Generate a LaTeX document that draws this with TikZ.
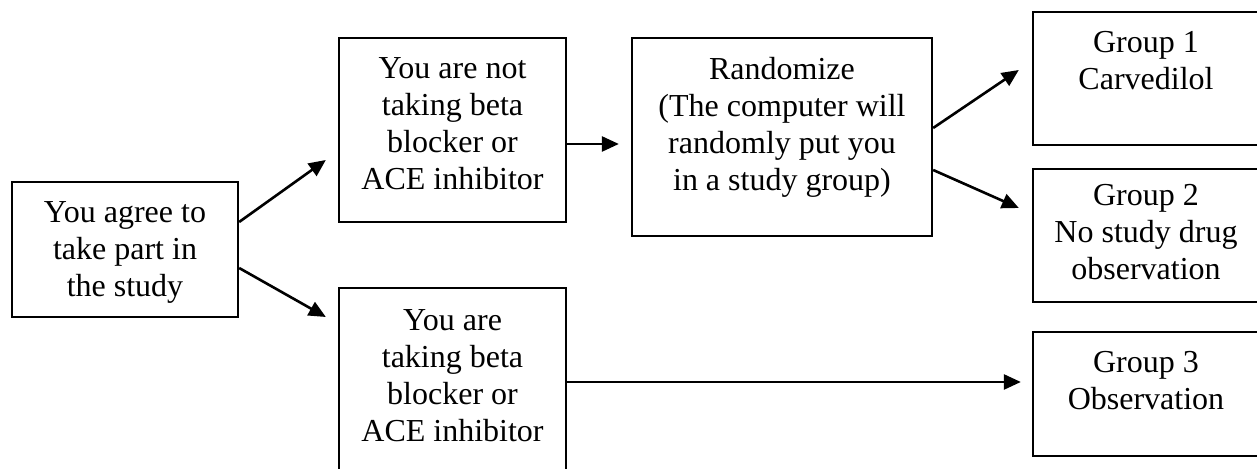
\documentclass[tikz,border=0pt]{standalone}
\usepackage{fontspec}
\setmainfont{Liberation Serif}
\usetikzlibrary{arrows.meta,calc}
\tikzset{
  flowarrow/.style={-{Triangle[length=8.5pt, width=7.5pt]}, line width=1.3pt},
  stepbox/.style={draw, line width=1.15pt, minimum width=113.5pt, minimum height=92pt},
  groupbox/.style={draw, line width=1.15pt, minimum width=113pt, minimum height=66.5pt},
  boxtext/.style={anchor=north, align=center, inner sep=0pt, yshift=-10pt}
}

\begin{document}
\begin{tikzpicture}[x=0.5pt, y=0.5pt, every node/.style={font=\fontsize{16}{18.5}\selectfont}]
  \useasboundingbox (0,0) rectangle (1257,469);
  % entry
  \node[stepbox, minimum width=113pt, minimum height=67.5pt,
        label={[boxtext]north:{You agree to\\take part in\\the study}}] (agree) at (125,219.5) {};
  % the two arms
  \node[stepbox, label={[boxtext]north:{You are not\\taking beta\\blocker or\\ACE inhibitor}}] (notbb) at (452.5,339) {};
  \node[stepbox, label={[boxtext, yshift=-1pt]north:{You are\\taking beta\\blocker or\\ACE inhibitor}}] (bb) at (452.5,89) {};
  \node[stepbox, minimum width=150pt, minimum height=99pt,
        label={[boxtext]north:{Randomize\\(The computer will\\randomly put you\\in a study group)}}] (rand) at (782,332) {};
  % groups
  \node[groupbox, label={[boxtext]north:{Group 1\\Carvedilol}}] (g1) at (1146,390.5) {};
  \node[groupbox, label={[boxtext, yshift=2pt]north:{Group 2\\No study drug\\observation}}] (g2) at (1146,233.5) {};
  \node[groupbox, minimum height=62pt, label={[boxtext]north:{Group 3\\Observation}}] (g3) at (1146,75) {};

  \draw[flowarrow] ($(agree.east)+(0,27.5)$) -- ($(notbb.west)+(-12,-30)$);
  \draw[flowarrow] ($(agree.east)+(0,-18.5)$) -- ($(bb.west)+(-12,63)$);
  \draw[flowarrow] ($(notbb.east)+(0,-14)$) -- ($(rand.west)+(-12,-7)$);
  \draw[flowarrow] ($(rand.east)+(0,9)$) -- ($(g1.west)+(-13,8.5)$);
  \draw[flowarrow] ($(rand.east)+(0,-33)$) -- ($(g2.west)+(-13,27.5)$);
  \draw[flowarrow] ($(bb.east)+(0,-2)$) -- ($(g3.west)+(-11,12)$);
\end{tikzpicture}
\end{document}
